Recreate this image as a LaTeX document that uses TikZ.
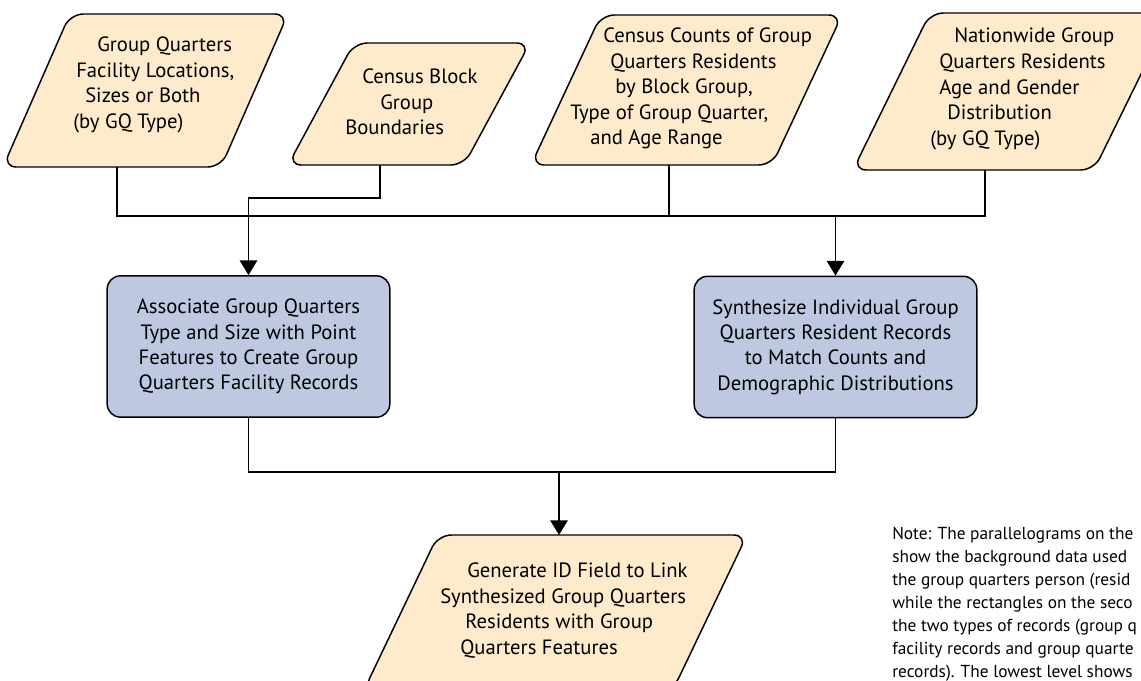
\documentclass[tikz,border=0pt]{standalone}
\usepackage{fontspec}
\setmainfont{PT Sans}
\usetikzlibrary{arrows.meta}
\definecolor{beige}{RGB}{253,235,204}
\definecolor{bluebox}{RGB}{191,200,225}
\begin{document}
\begin{tikzpicture}[x=0.75pt,y=-0.75pt,
  para/.style={draw=black, line width=1.1pt, fill=beige, rounded corners=10pt},
  proc/.style={draw=black, line width=1.1pt, fill=bluebox, rounded corners=10pt, rectangle,
    minimum width=212pt, minimum height=106pt, align=center, inner sep=0pt,
    font=\fontsize{15.5}{19}\selectfont},
  ptext/.style={align=left, anchor=west, inner sep=0pt, font=\fontsize{15.5}{19.2}\selectfont},
  notetext/.style={align=left, anchor=west, inner sep=0pt, font=\fontsize{13}{17.25}\selectfont},
  link/.style={line width=1.4pt},
  arr/.style={link, -{Triangle[length=11pt,width=13pt]}}
]
\useasboundingbox (0,0) rectangle (1141,681);
\clip (0,0) rectangle (1141,681);

% parallelograms (background data)
\path[para] (112.5,167) -- (3,167) -- (70,14) -- (288,14) -- (221,167) -- cycle;
\path[para] (376,165) -- (288,165) -- (354,43) -- (530,43) -- (464,165) -- cycle;
\path[para] (651,165) -- (531,165) -- (601,15) -- (842,15) -- (772,165) -- cycle;
\path[para] (973,170) -- (853,170) -- (930,13) -- (1171,13) -- (1094,170) -- cycle;
\path[para] (520,690) -- (364,690) -- (438,535) -- (747,535) -- (673,690) -- cycle;

\node[ptext] (t1) at (73,85) {\hspace*{18pt}Group Quarters\\\hspace*{2.25pt}Facility Locations,\\\hspace*{9pt}Sizes or Both\\(by GQ Type)};
\node[ptext] (t2) at (345,102) {\hspace*{12.75pt}Census Block\\\hspace*{26.25pt}Group\\Boundaries};
\node[ptext] (t3) at (570,88.5) {\hspace*{24.75pt}Census Counts of Group\\\hspace*{30pt}Quarters Residents\\\hspace*{33.75pt}by Block Group,\\Type of Group Quarter,\\\hspace*{15pt}and Age Range};
\node[ptext] (t4) at (930,89) {\hspace*{18pt}Nationwide Group\\\hspace*{6.75pt}Quarters Residents\\\hspace*{6.75pt}Age and Gender\\\hspace*{12.75pt}Distribution\\(by GQ Type)};
\node[ptext] (t5) at (440,610.5) {\hspace*{20.25pt}Generate ID Field to Link\\Synthesized Group Quarters\\\hspace*{18.75pt}Residents with Group\\\hspace*{15pt}Quarters Features};

% process boxes
\node[proc] (b1) at (248.5,346.5) {Associate Group Quarters\\Type and Size with Point\\Features to Create Group\\Quarters Facility Records};
\node[proc] (b2) at (835.5,347) {Synthesize Individual Group\\Quarters Resident Records\\to Match Counts and\\Demographic Distributions};

% note
\node[notetext] (note) at (892,604) {Note: The parallelograms on the\\show the background data used\\the group quarters person (resid\\while the rectangles on the seco\\the two types of records (group q\\facility records and group quarte\\records). The lowest level shows};

% connection points
\coordinate (p1b) at (117,167);
\coordinate (p2b) at (380,165);
\coordinate (p3b) at (669,165);
\coordinate (p4b) at (985,170);
\coordinate (p5t) at (559,535);
\coordinate (busL) at (117,216);
\coordinate (busR) at (985,216);
\coordinate (bus2) at (559,472);

\draw[link] (p1b) -- (busL) -- (busR) -- (p4b);
\draw[link] (p3b) -- (p3b |- busL);
\draw[arr] (p2b) -- ++(0,33) -| (b1.north);
\draw[arr] (b2.north |- busL) -- (b2.north);
\draw[link] (b1.south) |- (bus2) -| (b2.south);
\draw[arr] (bus2) -- (p5t);
\end{tikzpicture}
\end{document}
